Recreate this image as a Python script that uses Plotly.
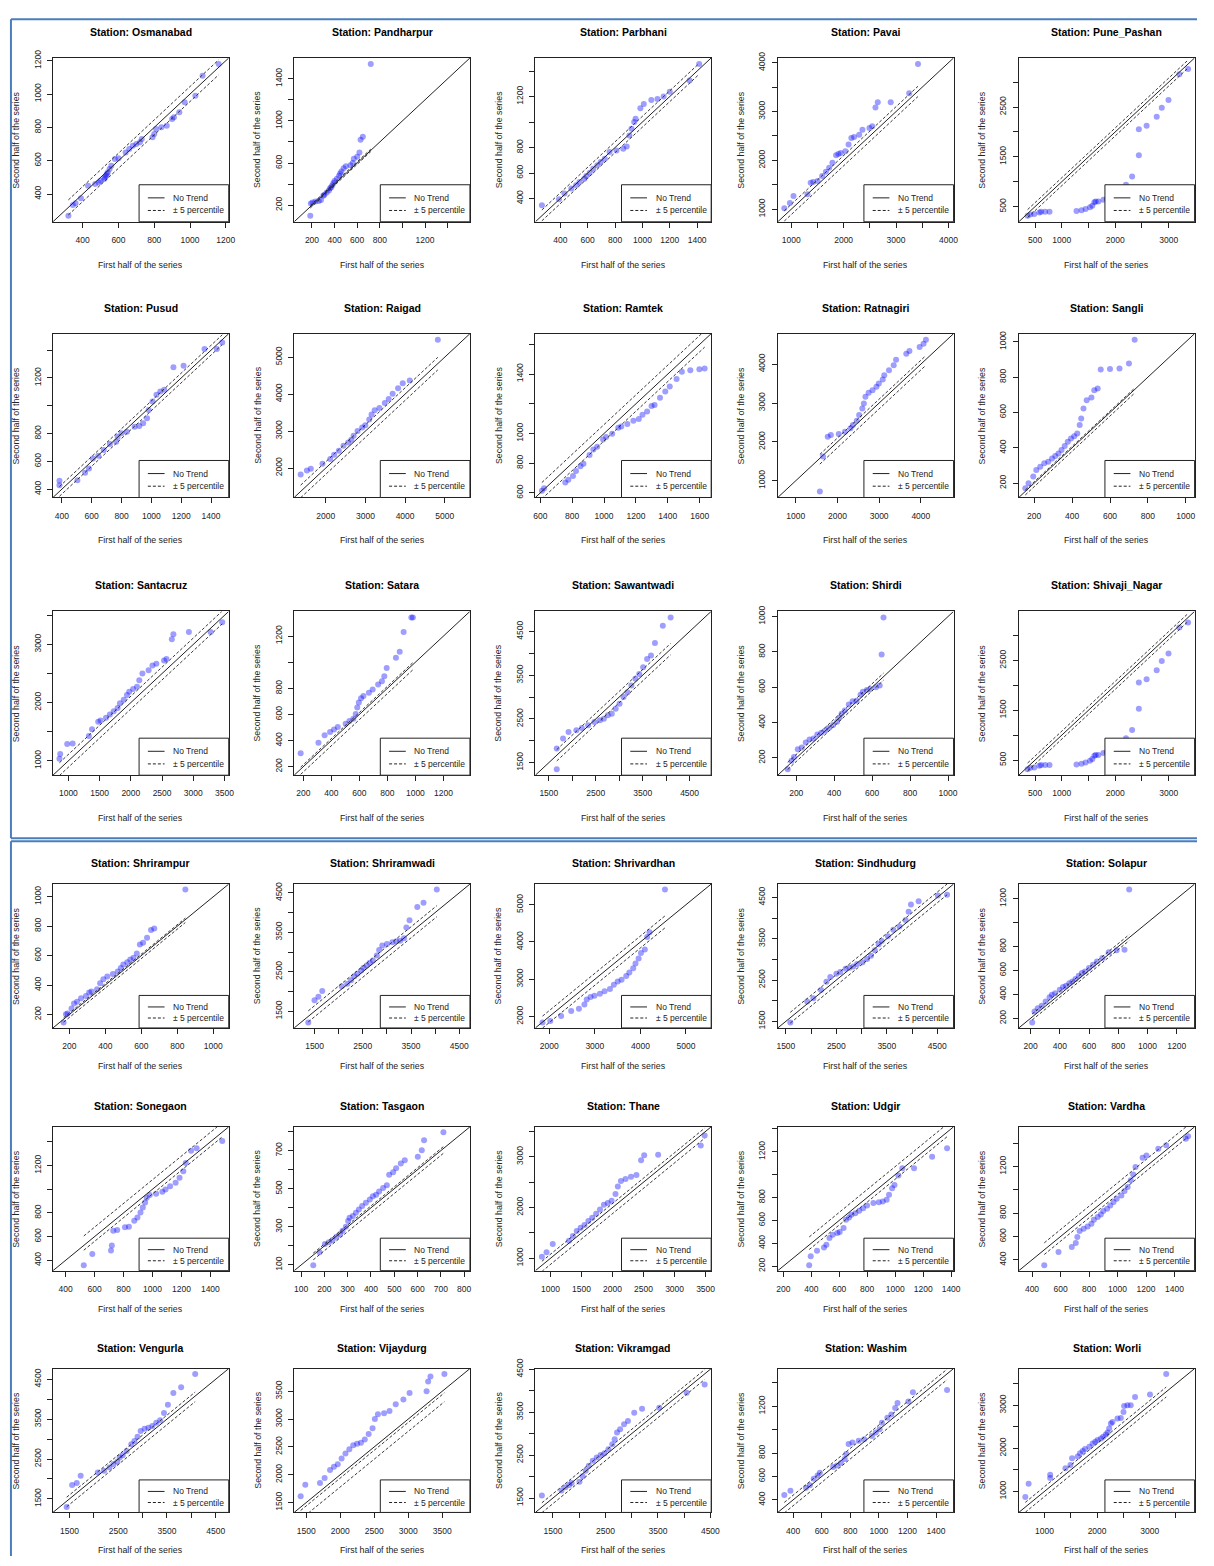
import plotly.graph_objects as go

# quantiles of first and second half of each station's series
osmanabad_first = [320, 345, 360, 390, 430, 470, 490, 500, 520, 525, 530, 535, 540, 550, 560, 580, 600, 640, 660, 680, 700, 720, 730, 790, 800, 810, 840, 870, 900, 910, 940, 970, 1030, 1070, 1160]
osmanabad_second = [270, 335, 345, 375, 450, 460, 470, 480, 490, 500, 510, 520, 530, 550, 570, 610, 615, 650, 670, 690, 700, 710, 730, 740, 760, 790, 800, 810, 850, 860, 890, 950, 990, 1110, 1180]
osmanabad_band = [-45, 45]
osmanabad_ticks = [400, 600, 800, 1000, 1200]
osmanabad_xhide = []
osmanabad_yhide = []

pandharpur_first = [185, 190, 205, 230, 260, 280, 300, 310, 330, 350, 360, 370, 380, 390, 400, 420, 440, 450, 460, 480, 500, 540, 560, 570, 600, 620, 630, 650, 720]
pandharpur_second = [100, 215, 225, 235, 240, 250, 290, 300, 320, 340, 360, 370, 390, 410, 430, 450, 480, 500, 520, 550, 570, 580, 600, 640, 660, 700, 820, 850, 1540]
pandharpur_band = [-12, 12]
pandharpur_ticks = [200, 400, 600, 800, 1000, 1200, 1400]
pandharpur_xhide = [1000, 1400]
pandharpur_yhide = [400, 800, 1200]

parbhani_first = [265, 390, 430, 480, 515, 540, 575, 590, 615, 640, 670, 695, 725, 760, 810, 860, 885, 905, 920, 940, 950, 985, 1010, 1065, 1110, 1155, 1200, 1345, 1415]
parbhani_second = [348, 395, 440, 478, 505, 530, 556, 577, 603, 634, 660, 686, 712, 765, 777, 790, 809, 895, 947, 1000, 1025, 1108, 1142, 1173, 1181, 1200, 1238, 1325, 1455]
parbhani_band = [-40, 45]
parbhani_ticks = [400, 600, 800, 1000, 1200, 1400]
parbhani_xhide = []
parbhani_yhide = [1000, 1400]

pavai_first = [868, 974, 1044, 1309, 1371, 1420, 1503, 1591, 1662, 1724, 1786, 1856, 1900, 1944, 2033, 2094, 2147, 2200, 2297, 2359, 2492, 2545, 2607, 2651, 2898, 3251, 3418]
pavai_second = [1020, 1129, 1272, 1305, 1543, 1560, 1577, 1679, 1767, 1849, 1950, 2106, 2130, 2154, 2188, 2324, 2460, 2480, 2527, 2629, 2663, 2697, 3084, 3193, 3193, 3376, 3973]
pavai_band = [-110, 100]
pavai_ticks = [1000, 1500, 2000, 2500, 3000, 3500, 4000]
pavai_xhide = [1500, 2500, 3500]
pavai_yhide = [1500, 2500, 3500]

pune_pashan_first = [361, 412, 487, 582, 613, 689, 771, 1276, 1370, 1446, 1528, 1572, 1610, 1635, 1685, 1780, 1843, 1919, 2001, 2064, 2202, 2316, 2442, 2442, 2587, 2776, 2871, 2997, 3199, 3363]
pune_pashan_second = [318, 345, 352, 385, 399, 399, 399, 412, 426, 453, 487, 520, 588, 601, 601, 641, 655, 689, 722, 756, 938, 1106, 1530, 2056, 2123, 2305, 2487, 2641, 3160, 3261]
pune_pashan_band = [-80, 80]
pune_pashan_ticks = [500, 1000, 1500, 2000, 2500, 3000]
pune_pashan_xhide = [1500, 2500]
pune_pashan_yhide = [1000, 2000, 3000]

pusud_first = [384, 384, 504, 556, 582, 608, 644, 681, 722, 764, 774, 800, 836, 888, 919, 945, 971, 982, 1008, 1034, 1060, 1086, 1148, 1216, 1356, 1439, 1475]
pusud_second = [429, 460, 465, 518, 549, 621, 641, 682, 725, 742, 778, 802, 814, 850, 855, 874, 910, 970, 1030, 1079, 1103, 1115, 1278, 1288, 1408, 1408, 1456]
pusud_band = [-35, 35]
pusud_ticks = [400, 600, 800, 1000, 1200, 1400]
pusud_xhide = []
pusud_yhide = [1000, 1400]

raigad_first = [1368, 1525, 1623, 1918, 2114, 2212, 2330, 2448, 2566, 2644, 2703, 2802, 2919, 2998, 3096, 3155, 3234, 3352, 3489, 3587, 3686, 3823, 3941, 4118, 4825]
raigad_second = [1829, 1936, 1980, 2114, 2248, 2363, 2470, 2604, 2693, 2764, 2871, 3005, 3094, 3156, 3316, 3450, 3566, 3628, 3762, 3869, 4011, 4162, 4296, 4367, 5471]
raigad_band = [-170, 170]
raigad_ticks = [2000, 3000, 4000, 5000]
raigad_xhide = []
raigad_yhide = []

ramtek_first = [610, 624, 757, 776, 805, 824, 852, 871, 909, 933, 957, 994, 1013, 1051, 1089, 1108, 1146, 1184, 1218, 1241, 1270, 1298, 1317, 1351, 1384, 1412, 1455, 1488, 1541, 1598, 1631]
ramtek_second = [615, 631, 670, 688, 714, 747, 780, 797, 856, 893, 911, 959, 977, 999, 1038, 1047, 1064, 1086, 1097, 1126, 1148, 1185, 1191, 1240, 1283, 1316, 1366, 1415, 1426, 1432, 1437]
ramtek_band = [-50, 60]
ramtek_ticks = [600, 800, 1000, 1200, 1400, 1600]
ramtek_xhide = []
ramtek_yhide = [1200, 1600]

ratnagiri_first = [1578, 1654, 1767, 1842, 2031, 2181, 2313, 2370, 2464, 2520, 2596, 2633, 2671, 2747, 2841, 2935, 2992, 3086, 3123, 3236, 3349, 3406, 3651, 3726, 3971, 4065, 4122]
ratnagiri_second = [725, 1622, 2135, 2177, 2203, 2263, 2348, 2434, 2545, 2690, 2861, 2989, 3160, 3262, 3331, 3416, 3501, 3604, 3715, 3843, 3971, 4117, 4270, 4339, 4441, 4527, 4629]
ratnagiri_band = [-150, 100]
ratnagiri_ticks = [1000, 2000, 3000, 4000]
ratnagiri_xhide = []
ratnagiri_yhide = []

sangli_first = [153, 170, 195, 211, 232, 253, 274, 294, 311, 328, 344, 361, 377, 394, 411, 427, 440, 448, 460, 477, 502, 517, 535, 551, 600, 650, 700, 730]
sangli_second = [171, 199, 237, 274, 293, 312, 321, 340, 353, 368, 387, 410, 434, 453, 466, 481, 529, 566, 623, 670, 685, 726, 736, 843, 847, 849, 877, 1012]
sangli_band = [-20, 8]
sangli_ticks = [200, 400, 600, 800, 1000]
sangli_xhide = []
sangli_yhide = []

santacruz_first = [857, 869, 981, 1068, 1328, 1378, 1477, 1515, 1602, 1664, 1726, 1788, 1825, 1887, 1937, 1974, 2036, 2098, 2135, 2185, 2284, 2346, 2408, 2532, 2570, 2656, 2681, 2929, 3277, 3463]
santacruz_second = [1034, 1119, 1288, 1299, 1428, 1541, 1670, 1693, 1738, 1794, 1850, 1907, 1991, 2047, 2132, 2188, 2233, 2273, 2385, 2498, 2554, 2638, 2667, 2723, 2751, 3089, 3173, 3212, 3212, 3381]
santacruz_band = [-110, 110]
santacruz_ticks = [1000, 1500, 2000, 2500, 3000, 3500]
santacruz_xhide = []
santacruz_yhide = [1500, 2500, 3500]

satara_first = [181, 308, 352, 391, 419, 446, 502, 529, 557, 574, 585, 596, 612, 629, 668, 695, 734, 761, 778, 795, 861, 888, 916, 971, 982]
satara_second = [303, 384, 441, 466, 484, 504, 529, 549, 567, 604, 654, 692, 724, 742, 767, 792, 830, 855, 892, 955, 1035, 1080, 1231, 1343, 1343]
satara_band = [-40, 15]
satara_ticks = [200, 400, 600, 800, 1000, 1200]
satara_xhide = []
satara_yhide = [1000]

sawantwadi_first = [1669, 1669, 1803, 1920, 2087, 2204, 2338, 2472, 2589, 2673, 2757, 2841, 2925, 3008, 3092, 3175, 3259, 3343, 3427, 3510, 3594, 3677, 3761, 3929, 4096]
sawantwadi_second = [1352, 1822, 2050, 2202, 2240, 2293, 2354, 2430, 2468, 2506, 2582, 2620, 2733, 2847, 2999, 3113, 3265, 3417, 3530, 3682, 3872, 3948, 4237, 4631, 4821]
sawantwadi_band = [-130, 130]
sawantwadi_ticks = [1500, 2000, 2500, 3000, 3500, 4000, 4500]
sawantwadi_xhide = [2000, 3000, 4000]
sawantwadi_yhide = [2000, 3000, 4000]

shirdi_first = [155, 175, 188, 208, 229, 250, 270, 291, 311, 332, 353, 373, 394, 415, 427, 439, 456, 477, 497, 518, 539, 551, 572, 590, 620, 640, 650, 660]
shirdi_second = [137, 184, 206, 249, 259, 287, 305, 311, 333, 343, 356, 371, 386, 405, 427, 450, 468, 502, 521, 524, 558, 575, 585, 590, 600, 610, 785, 995]
shirdi_band = [-20, 20]
shirdi_ticks = [200, 400, 600, 800, 1000]
shirdi_xhide = []
shirdi_yhide = []

shivaji_nagar_first = [361, 412, 487, 582, 613, 689, 771, 1276, 1370, 1446, 1528, 1572, 1610, 1635, 1685, 1780, 1843, 1919, 2001, 2064, 2202, 2316, 2442, 2442, 2587, 2776, 2871, 2997, 3199, 3363]
shivaji_nagar_second = [318, 345, 352, 385, 399, 399, 399, 412, 426, 453, 487, 520, 588, 601, 601, 641, 655, 689, 722, 756, 938, 1106, 1530, 2056, 2123, 2305, 2487, 2641, 3160, 3261]
shivaji_nagar_band = [-80, 80]
shivaji_nagar_ticks = [500, 1000, 1500, 2000, 2500, 3000]
shivaji_nagar_xhide = [1500, 2500]
shivaji_nagar_yhide = [1000, 2000, 3000]

shrirampur_first = [168, 181, 190, 212, 226, 243, 265, 292, 310, 323, 354, 371, 389, 411, 442, 469, 486, 500, 522, 539, 557, 575, 592, 610, 632, 654, 672, 845]
shrirampur_second = [145, 202, 207, 241, 275, 287, 310, 326, 349, 356, 372, 413, 440, 459, 475, 493, 516, 539, 555, 573, 585, 615, 676, 688, 722, 775, 784, 1050]
shrirampur_band = [-20, 10]
shrirampur_ticks = [200, 400, 600, 800, 1000]
shrirampur_xhide = []
shrirampur_yhide = []

shriramwadi_first = [1369, 1498, 1579, 1659, 2063, 2177, 2257, 2322, 2387, 2467, 2516, 2581, 2645, 2710, 2791, 2839, 2904, 3001, 3114, 3195, 3275, 3356, 3404, 3469, 3631, 3760, 4035]
shriramwadi_second = [1211, 1780, 1864, 2015, 2132, 2199, 2283, 2384, 2451, 2535, 2602, 2660, 2727, 2786, 2912, 3054, 3163, 3205, 3247, 3272, 3289, 3347, 3624, 3808, 4143, 4252, 4588]
shriramwadi_band = [-140, 140]
shriramwadi_ticks = [1500, 2000, 2500, 3000, 3500, 4000, 4500]
shriramwadi_xhide = [2000, 3000, 4000]
shriramwadi_yhide = [2000, 3000, 4000]

shrivardhan_first = [1852, 2022, 2260, 2481, 2651, 2771, 2822, 2907, 2992, 3111, 3213, 3332, 3417, 3502, 3587, 3689, 3757, 3842, 3893, 3961, 4012, 4097, 4148, 4199, 4539]
shrivardhan_second = [1838, 1882, 2015, 2147, 2209, 2323, 2456, 2526, 2561, 2614, 2676, 2738, 2852, 2941, 2985, 3090, 3179, 3293, 3426, 3558, 3708, 3796, 4131, 4264, 5410]
shrivardhan_band = [-160, 160]
shrivardhan_ticks = [2000, 3000, 4000, 5000]
shrivardhan_xhide = []
shrivardhan_yhide = []

sindhudurg_first = [1588, 1923, 2045, 2197, 2303, 2380, 2501, 2577, 2684, 2760, 2836, 2912, 3019, 3110, 3186, 3262, 3339, 3399, 3521, 3628, 3750, 3871, 3932, 3978, 4130, 4511, 4693]
sindhudurg_second = [1469, 1982, 2061, 2258, 2456, 2574, 2653, 2692, 2771, 2795, 2827, 2890, 2929, 3008, 3087, 3221, 3363, 3442, 3561, 3719, 3798, 3955, 4153, 4326, 4405, 4547, 4563]
sindhudurg_band = [-130, 130]
sindhudurg_ticks = [1500, 2000, 2500, 3000, 3500, 4000, 4500]
sindhudurg_xhide = [2000, 3000, 4000]
sindhudurg_yhide = [2000, 3000, 4000]

solapur_first = [211, 227, 249, 276, 303, 330, 346, 368, 400, 422, 443, 465, 486, 508, 530, 551, 573, 600, 627, 654, 692, 735, 789, 843, 875]
solapur_second = [164, 256, 284, 304, 340, 376, 396, 410, 438, 461, 472, 494, 508, 528, 556, 578, 592, 620, 648, 676, 704, 752, 769, 774, 1278]
solapur_band = [-25, 25]
solapur_ticks = [200, 400, 600, 800, 1000, 1200]
solapur_xhide = []
solapur_yhide = [1000]

sonegaon_first = [525, 584, 713, 719, 729, 756, 810, 837, 874, 896, 917, 933, 949, 960, 981, 1025, 1068, 1090, 1122, 1160, 1187, 1213, 1230, 1267, 1305, 1482]
sonegaon_second = [357, 454, 482, 524, 650, 655, 678, 683, 733, 761, 803, 845, 887, 929, 951, 962, 979, 998, 1026, 1054, 1096, 1152, 1222, 1325, 1347, 1408]
sonegaon_band = [-40, 80]
sonegaon_ticks = [400, 600, 800, 1000, 1200, 1400]
sonegaon_xhide = []
sonegaon_yhide = [1000, 1400]

tasgaon_first = [152, 179, 202, 219, 235, 252, 268, 278, 292, 302, 308, 322, 335, 348, 362, 378, 395, 408, 422, 435, 452, 468, 478, 495, 508, 528, 545, 601, 618, 628, 711]
tasgaon_second = [98, 167, 210, 219, 231, 248, 262, 279, 300, 331, 348, 357, 374, 391, 409, 426, 443, 461, 469, 486, 504, 518, 573, 587, 607, 633, 650, 668, 702, 754, 797]
tasgaon_band = [-25, 10]
tasgaon_ticks = [100, 200, 300, 400, 500, 600, 700, 800]
tasgaon_xhide = []
tasgaon_yhide = [200, 400, 600, 800]

thane_first = [860, 935, 1035, 1297, 1360, 1422, 1485, 1547, 1610, 1672, 1735, 1797, 1860, 1922, 1985, 2047, 2085, 2135, 2210, 2297, 2385, 2460, 2510, 2735, 3422, 3485]
thane_second = [1032, 1116, 1279, 1343, 1441, 1538, 1603, 1654, 1732, 1797, 1875, 1959, 2056, 2089, 2134, 2264, 2413, 2523, 2562, 2607, 2640, 2931, 3029, 3041, 3223, 3417]
thane_band = [-120, 80]
thane_ticks = [1000, 1500, 2000, 2500, 3000, 3500]
thane_xhide = []
thane_yhide = [1500, 2500, 3500]

udgir_first = [385, 396, 441, 491, 508, 530, 553, 586, 603, 631, 648, 670, 687, 715, 743, 771, 799, 844, 883, 911, 939, 956, 978, 995, 1023, 1051, 1135, 1264, 1371]
udgir_second = [207, 286, 335, 364, 387, 446, 475, 489, 498, 533, 605, 626, 649, 663, 684, 707, 730, 751, 759, 765, 780, 823, 881, 910, 992, 1056, 1056, 1157, 1230]
udgir_band = [-40, 70]
udgir_ticks = [200, 400, 600, 800, 1000, 1200, 1400]
udgir_xhide = []
udgir_yhide = [1000, 1400]

vardha_first = [486, 586, 679, 707, 718, 734, 762, 790, 817, 834, 861, 883, 900, 927, 949, 972, 994, 1027, 1049, 1071, 1093, 1110, 1126, 1176, 1203, 1286, 1341, 1479, 1495]
vardha_second = [353, 467, 510, 544, 596, 647, 667, 687, 710, 745, 767, 790, 819, 839, 867, 896, 925, 953, 990, 1025, 1082, 1133, 1196, 1276, 1296, 1353, 1382, 1439, 1459]
vardha_band = [-40, 60]
vardha_ticks = [400, 600, 800, 1000, 1200, 1400]
vardha_xhide = []
vardha_yhide = [1000, 1400]

vengurla_first = [1442, 1554, 1649, 1729, 2081, 2209, 2321, 2401, 2481, 2529, 2592, 2672, 2768, 2832, 2896, 2960, 3040, 3120, 3200, 3280, 3360, 3439, 3519, 3631, 3791, 4079]
vengurla_second = [1294, 1850, 1899, 2082, 2164, 2206, 2289, 2372, 2430, 2537, 2595, 2703, 2869, 2952, 3059, 3200, 3258, 3283, 3325, 3408, 3474, 3656, 3863, 4153, 4302, 4634]
vengurla_band = [-140, 100]
vengurla_ticks = [1500, 2000, 2500, 3000, 3500, 4000, 4500]
vengurla_xhide = [2000, 3000, 4000]
vengurla_yhide = [2000, 3000, 4000]

vijaydurg_first = [1418, 1486, 1702, 1770, 1850, 1907, 1963, 2020, 2077, 2134, 2191, 2248, 2304, 2361, 2418, 2475, 2509, 2554, 2645, 2725, 2816, 2929, 3020, 3270, 3293, 3327, 3532]
vijaydurg_second = [1615, 1821, 1851, 1939, 2086, 2145, 2187, 2293, 2381, 2458, 2528, 2558, 2575, 2634, 2734, 2835, 3000, 3088, 3106, 3147, 3265, 3353, 3471, 3500, 3677, 3765, 3812]
vijaydurg_band = [-220, -60]
vijaydurg_ticks = [1500, 2000, 2500, 3000, 3500]
vijaydurg_xhide = []
vijaydurg_yhide = []

vikramgad_first = [1289, 1662, 1737, 1811, 1856, 2005, 2065, 2124, 2184, 2258, 2333, 2408, 2482, 2557, 2631, 2676, 2721, 2780, 2855, 2929, 3049, 3198, 3526, 4048, 4391]
vikramgad_second = [1557, 1673, 1750, 1804, 1850, 1881, 2005, 2136, 2252, 2368, 2446, 2500, 2546, 2639, 2755, 2871, 3026, 3103, 3219, 3296, 3489, 3582, 3605, 3953, 4147]
vikramgad_band = [-130, 100]
vikramgad_ticks = [1500, 2000, 2500, 3000, 3500, 4000, 4500]
vikramgad_xhide = [2000, 3000, 4000]
vikramgad_yhide = [2000, 3000, 4000]

washim_first = [338, 381, 490, 517, 544, 571, 587, 680, 707, 734, 761, 772, 788, 815, 859, 897, 951, 978, 1005, 1021, 1059, 1087, 1114, 1130, 1206, 1238, 1477]
washim_second = [441, 477, 503, 525, 581, 609, 632, 680, 694, 716, 750, 792, 877, 891, 905, 919, 947, 975, 1003, 1059, 1102, 1130, 1186, 1228, 1242, 1320, 1340]
washim_band = [-50, 40]
washim_ticks = [400, 600, 800, 1000, 1200, 1400]
washim_xhide = []
washim_yhide = [1000, 1400]

worli_first = [634, 697, 1107, 1107, 1397, 1493, 1524, 1631, 1675, 1726, 1770, 1852, 1915, 1965, 2009, 2073, 2117, 2167, 2199, 2230, 2262, 2293, 2388, 2451, 2502, 2514, 2577, 2640, 2722, 3006, 3315]
worli_second = [869, 1177, 1308, 1385, 1538, 1615, 1769, 1808, 1885, 1938, 1985, 2038, 2115, 2154, 2192, 2231, 2270, 2323, 2369, 2462, 2577, 2615, 2692, 2708, 2846, 2985, 3000, 3000, 3192, 3254, 3731]
worli_band = [-120, 110]
worli_ticks = [1000, 1500, 2000, 2500, 3000, 3500]
worli_xhide = [1500, 2500, 3500]
worli_yhide = [1500, 2500, 3500]

panels = [
    ("Osmanabad", osmanabad_first, osmanabad_second, osmanabad_band, osmanabad_ticks, osmanabad_xhide, osmanabad_yhide),
    ("Pandharpur", pandharpur_first, pandharpur_second, pandharpur_band, pandharpur_ticks, pandharpur_xhide, pandharpur_yhide),
    ("Parbhani", parbhani_first, parbhani_second, parbhani_band, parbhani_ticks, parbhani_xhide, parbhani_yhide),
    ("Pavai", pavai_first, pavai_second, pavai_band, pavai_ticks, pavai_xhide, pavai_yhide),
    ("Pune_Pashan", pune_pashan_first, pune_pashan_second, pune_pashan_band, pune_pashan_ticks, pune_pashan_xhide, pune_pashan_yhide),
    ("Pusud", pusud_first, pusud_second, pusud_band, pusud_ticks, pusud_xhide, pusud_yhide),
    ("Raigad", raigad_first, raigad_second, raigad_band, raigad_ticks, raigad_xhide, raigad_yhide),
    ("Ramtek", ramtek_first, ramtek_second, ramtek_band, ramtek_ticks, ramtek_xhide, ramtek_yhide),
    ("Ratnagiri", ratnagiri_first, ratnagiri_second, ratnagiri_band, ratnagiri_ticks, ratnagiri_xhide, ratnagiri_yhide),
    ("Sangli", sangli_first, sangli_second, sangli_band, sangli_ticks, sangli_xhide, sangli_yhide),
    ("Santacruz", santacruz_first, santacruz_second, santacruz_band, santacruz_ticks, santacruz_xhide, santacruz_yhide),
    ("Satara", satara_first, satara_second, satara_band, satara_ticks, satara_xhide, satara_yhide),
    ("Sawantwadi", sawantwadi_first, sawantwadi_second, sawantwadi_band, sawantwadi_ticks, sawantwadi_xhide, sawantwadi_yhide),
    ("Shirdi", shirdi_first, shirdi_second, shirdi_band, shirdi_ticks, shirdi_xhide, shirdi_yhide),
    ("Shivaji_Nagar", shivaji_nagar_first, shivaji_nagar_second, shivaji_nagar_band, shivaji_nagar_ticks, shivaji_nagar_xhide, shivaji_nagar_yhide),
    ("Shrirampur", shrirampur_first, shrirampur_second, shrirampur_band, shrirampur_ticks, shrirampur_xhide, shrirampur_yhide),
    ("Shriramwadi", shriramwadi_first, shriramwadi_second, shriramwadi_band, shriramwadi_ticks, shriramwadi_xhide, shriramwadi_yhide),
    ("Shrivardhan", shrivardhan_first, shrivardhan_second, shrivardhan_band, shrivardhan_ticks, shrivardhan_xhide, shrivardhan_yhide),
    ("Sindhudurg", sindhudurg_first, sindhudurg_second, sindhudurg_band, sindhudurg_ticks, sindhudurg_xhide, sindhudurg_yhide),
    ("Solapur", solapur_first, solapur_second, solapur_band, solapur_ticks, solapur_xhide, solapur_yhide),
    ("Sonegaon", sonegaon_first, sonegaon_second, sonegaon_band, sonegaon_ticks, sonegaon_xhide, sonegaon_yhide),
    ("Tasgaon", tasgaon_first, tasgaon_second, tasgaon_band, tasgaon_ticks, tasgaon_xhide, tasgaon_yhide),
    ("Thane", thane_first, thane_second, thane_band, thane_ticks, thane_xhide, thane_yhide),
    ("Udgir", udgir_first, udgir_second, udgir_band, udgir_ticks, udgir_xhide, udgir_yhide),
    ("Vardha", vardha_first, vardha_second, vardha_band, vardha_ticks, vardha_xhide, vardha_yhide),
    ("Vengurla", vengurla_first, vengurla_second, vengurla_band, vengurla_ticks, vengurla_xhide, vengurla_yhide),
    ("Vijaydurg", vijaydurg_first, vijaydurg_second, vijaydurg_band, vijaydurg_ticks, vijaydurg_xhide, vijaydurg_yhide),
    ("Vikramgad", vikramgad_first, vikramgad_second, vikramgad_band, vikramgad_ticks, vikramgad_xhide, vikramgad_yhide),
    ("Washim", washim_first, washim_second, washim_band, washim_ticks, washim_xhide, washim_yhide),
    ("Worli", worli_first, worli_second, worli_band, worli_ticks, worli_xhide, worli_yhide),
]

PAGE_W, PAGE_H = 1214, 1566
W, H = 1198, 1550
# the page puts the plot div a little in and scales the shot slightly; undo that
OFF_X, OFF_Y = 9, 17
SC_X, SC_Y = 0.992, 0.9933
FONT = "Liberation Sans, Arial, sans-serif"
INK = "#222222"
BORDER = "#4a7ebb"


def px(x):
    # target page pixel -> paper fraction
    return max(0.0008, min(1, (x - OFF_X) / SC_X / W))


def py(y):
    return max(0, min(0.9992, 1 - (y - OFF_Y) / SC_Y / H))


col_left = [52, 293.5, 535, 777.7, 1019]
box_w = 176
# (top, bottom) pixel rows of the plot boxes; the lower block was squeezed vertically
row_box = [(57, 221), (333, 497), (611, 775), (884, 1028), (1127, 1271), (1369, 1513)]

fig = go.Figure()
annotations = []
shapes = []
layout_axes = {}

for i, (name, first, second, band, ticks, xhide, yhide) in enumerate(panels):
    n = i + 1
    r, c = divmod(i, 5)
    left = col_left[c]
    top, bottom = row_box[r]
    lower_block = r >= 3
    xs = "x" if n == 1 else "x%d" % n
    ys = "y" if n == 1 else "y%d" % n

    qx = sorted(first)
    qy = sorted(second)
    lo = min(qx[0], qy[0])
    hi = max(qx[-1], qy[-1])
    pad = 0.04 * (hi - lo)
    rng = [lo - pad, hi + pad]

    fig.add_trace(go.Scatter(x=qx, y=qy, mode="markers", xaxis=xs, yaxis=ys,
                             marker=dict(size=6, color="rgba(0,0,255,0.38)", line=dict(width=0)),
                             showlegend=False, hoverinfo="x+y"))
    fig.add_trace(go.Scatter(x=rng, y=rng, mode="lines", xaxis=xs, yaxis=ys,
                             line=dict(color=INK, width=1), showlegend=False, hoverinfo="skip"))
    for off in band:
        bx = [qx[0], qx[-1]]
        fig.add_trace(go.Scatter(x=bx, y=[v + off for v in bx], mode="lines", xaxis=xs, yaxis=ys,
                                 line=dict(color=INK, width=0.9, dash="3px,2px"),
                                 showlegend=False, hoverinfo="skip"))

    xd = [px(left), px(left + box_w)]
    yd = [py(bottom), py(top)]
    common = dict(range=rng, tickvals=ticks, ticks="outside", ticklen=5, tickcolor=INK,
                  showline=True, mirror=True, linecolor=INK, linewidth=1,
                  showgrid=False, zeroline=False,
                  tickfont=dict(family=FONT, size=8.5, color=INK))
    layout_axes["xaxis" if n == 1 else "xaxis%d" % n] = dict(
        common, domain=xd, anchor=ys,
        ticktext=["" if t in xhide else str(t) for t in ticks],
        ticklabelstandoff=5)
    layout_axes["yaxis" if n == 1 else "yaxis%d" % n] = dict(
        common, domain=yd, anchor=xs, tickangle=-90,
        ticktext=["" if t in yhide else str(t) for t in ticks],
        ticklabelstandoff=3)

    cx = px(left + box_w / 2)
    cy = py((top + bottom) / 2)
    title_gap = 21 if lower_block else 26
    xlab_gap = 38 if lower_block else 43
    annotations.append(dict(text="<b>Station: %s</b>" % name, x=cx, y=py(top - title_gap),
                            xref="paper", yref="paper", xanchor="center", yanchor="middle",
                            showarrow=False, font=dict(family=FONT, size=10.5, color="black")))
    annotations.append(dict(text="First half of the series", x=cx, y=py(bottom + xlab_gap),
                            xref="paper", yref="paper", xanchor="center", yanchor="middle",
                            showarrow=False, font=dict(family=FONT, size=8.8, color=INK)))
    annotations.append(dict(text="Second half of the series", x=px(left - 37), y=cy,
                            xref="paper", yref="paper", xanchor="center", yanchor="middle",
                            showarrow=False, textangle=-90,
                            font=dict(family=FONT, size=8.8, color=INK)))

    # legend box in the bottom-right corner of each panel
    dx = xs + " domain"
    dy = ys + " domain"
    shapes.append(dict(type="rect", xref=dx, yref=dy, x0=0.49, x1=1, y0=0, y1=0.226,
                       fillcolor="white", line=dict(color=INK, width=1), layer="above"))
    shapes.append(dict(type="line", xref=dx, yref=dy, x0=0.54, x1=0.635, y0=0.146, y1=0.146,
                       line=dict(color=INK, width=1), layer="above"))
    shapes.append(dict(type="line", xref=dx, yref=dy, x0=0.54, x1=0.635, y0=0.069, y1=0.069,
                       line=dict(color=INK, width=1, dash="3px,2px"), layer="above"))
    annotations.append(dict(text="No Trend", xref=dx, yref=dy, x=0.672, y=0.146,
                            xanchor="left", yanchor="middle", showarrow=False,
                            font=dict(family=FONT, size=8.5, color=INK)))
    annotations.append(dict(text="± 5 percentile", xref=dx, yref=dy, x=0.672, y=0.069,
                            xanchor="left", yanchor="middle", showarrow=False,
                            font=dict(family=FONT, size=8.5, color=INK)))

# blue frames around the two pasted blocks
for x0, y0, x1, y1 in [(6, 3, PAGE_W, 3), (6, 3, 6, 838), (6, 838, PAGE_W, 838),
                       (6, 841, PAGE_W, 841), (6, 841, 6, PAGE_H)]:
    shapes.append(dict(type="line", xref="paper", yref="paper",
                       x0=px(x0), x1=px(x1), y0=py(y0), y1=py(y1),
                       line=dict(color=BORDER, width=2)))

fig.update_layout(
    width=W, height=H,
    margin=dict(l=0, r=0, t=0, b=0),
    paper_bgcolor="white", plot_bgcolor="white",
    showlegend=False,
    annotations=annotations,
    shapes=shapes,
    **layout_axes
)

fig.write_html("out.html")
